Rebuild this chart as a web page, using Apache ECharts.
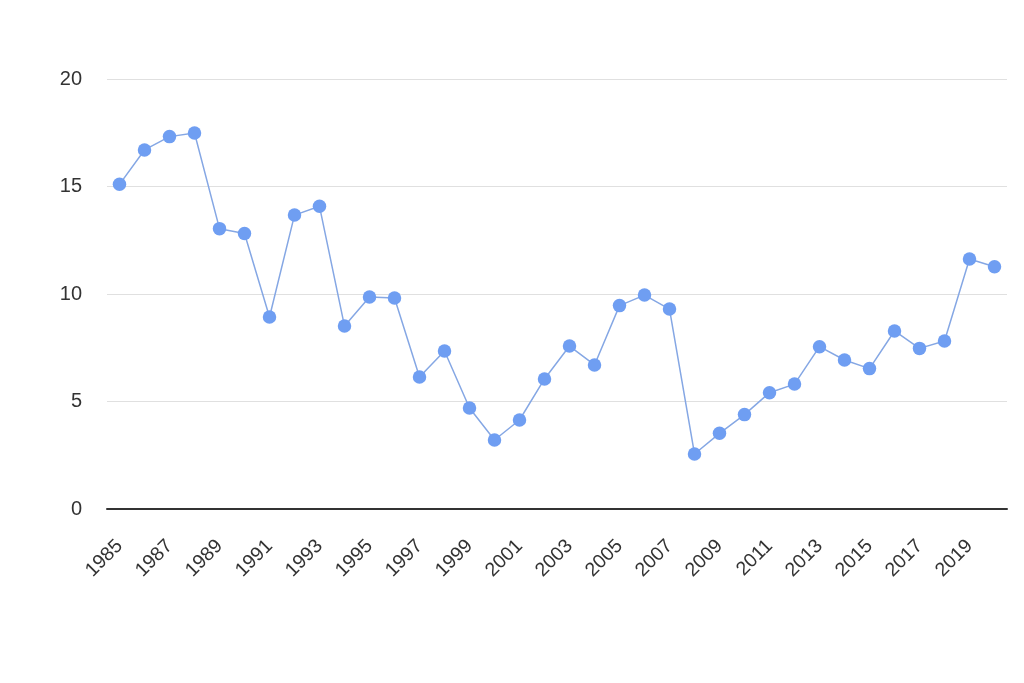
<!DOCTYPE html>
<html>
<head>
<meta charset="utf-8">
<script src="https://cdn.jsdelivr.net/npm/echarts@6/dist/echarts.min.js"></script>
<style>html,body{margin:0;padding:0;background:#fff;}#chart{width:1024px;height:683px;}</style>
</head>
<body>
<div id="chart"></div>
<script>
const years = ['1985','1986','1987','1988','1989','1990','1991','1992','1993','1994','1995','1996','1997','1998','1999','2000','2001','2002','2003','2004','2005','2006','2007','2008','2009','2010','2011','2012','2013','2014','2015','2016','2017','2018','2019','2020'];
const values = [15.1,16.7,17.32,17.49,13.04,12.81,8.93,13.67,14.08,8.51,9.86,9.81,6.14,7.35,4.7,3.21,4.14,6.05,7.58,6.7,9.46,9.95,9.3,2.56,3.52,4.39,5.41,5.81,7.55,6.93,6.53,8.28,7.47,7.81,11.63,11.27];
const yTicks = [0,5,10,15,20];

const chart = echarts.init(document.getElementById('chart'));
chart.setOption({
  animation: false,
  grid: {left: 107, right: 17, top: 79, bottom: 174},
  xAxis: {
    type: 'category',
    data: years,
    boundaryGap: true,
    axisLine: {lineStyle: {color: '#333', width: 2}},
    axisTick: {show: false},
    axisLabel: {interval: 1, rotate: 45, margin: 34, color: '#333', fontSize: 19.5, fontFamily: 'Liberation Sans, Arial, sans-serif'}
  },
  yAxis: {
    type: 'value',
    min: yTicks[0], max: yTicks[yTicks.length-1], interval: 5,
    axisLine: {show: false},
    axisTick: {show: false},
    splitLine: {lineStyle: {color: '#e0e0e0', width: 1}},
    axisLabel: {margin: 25, color: '#333', fontSize: 20, fontFamily: 'Liberation Sans, Arial, sans-serif'}
  },
  series: [{
    type: 'line',
    data: values,
    symbol: 'circle',
    symbolSize: 13.5,
    lineStyle: {color: '#85a7e4', width: 1.5},
    itemStyle: {color: '#6f9ef2'}
  }]
});
</script>
</body>
</html>
